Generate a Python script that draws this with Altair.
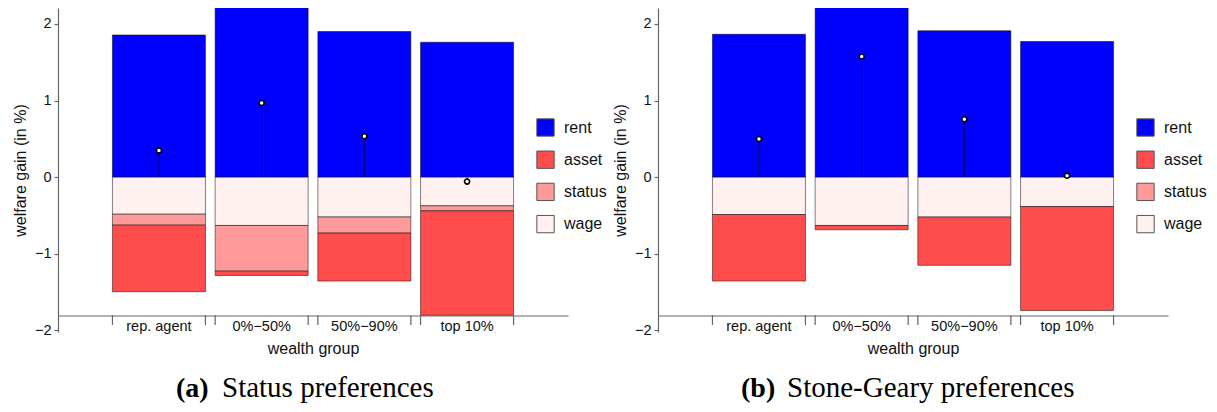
import altair as alt
import pandas as pd

# ---------------- data ----------------
groups = ["rep. agent", "0%\u221250%", "50%\u221290%", "top 10%"]
components = ["rent", "asset", "status", "wage"]
comp_colors = ["#0000FF", "#FF4D4D", "#FF9A9A", "#FFF1F0"]

# (a) Status preferences
rent_a = [1.855, 2.26, 1.90, 1.76]
wage_a = [-0.483, -0.63, -0.52, -0.374]
status_a = [-0.143, -0.596, -0.21, -0.066]
asset_a = [-0.869, -0.057, -0.626, -1.36]
total_a = [0.347, 0.969, 0.535, -0.057]

# (b) Stone-Geary preferences
rent_b = [1.864, 2.27, 1.91, 1.77]
wage_b = [-0.487, -0.63, -0.52, -0.383]
status_b = [0.0, 0.0, 0.0, 0.0]
asset_b = [-0.869, -0.057, -0.63, -1.357]
total_b = [0.499, 1.573, 0.756, 0.02]

x_axis_level = -1.8
y_ticks = [-2, -1, 0, 1, 2]

# ---------------- layout ----------------
W = 510
H = 324
Y_DOMAIN = [-2.02, 2.207]
AXIS_COLOR = "#666666"
SANS = "Liberation Sans"
SERIF = "Liberation Serif"


def bars_frame(rent, wage, status, asset):
    rows = []
    for g, r, w, s, a in zip(groups, rent, wage, status, asset):
        rows.append({"group": g, "component": "rent", "y0": 0.0, "y1": r})
        rows.append({"group": g, "component": "wage", "y0": 0.0, "y1": w})
        if s != 0:
            rows.append({"group": g, "component": "status", "y0": w, "y1": w + s})
        rows.append({"group": g, "component": "asset", "y0": w + s, "y1": w + s + a})
    return pd.DataFrame(rows)


def xenc(**kw):
    return alt.X(
        "group:N",
        sort=groups,
        scale=alt.Scale(paddingInner=0.0945, paddingOuter=0.53),
        axis=alt.Axis(
            title="wealth group",
            orient="bottom",
            offset=-16.5,
            domain=True,
            domainColor=AXIS_COLOR,
            domainWidth=1.2,
            ticks=False,
            tickSize=0,
            labelAngle=0,
            labelFont=SANS,
            labelFontSize=14.5,
            labelColor="#111111",
            labelBaseline="middle",
            labelPadding=11,
            titleFont=SANS,
            titleFontSize=16,
            titleFontWeight="normal",
            titleColor="#111111",
            titlePadding=7,
        ),
        **kw,
    )


def yenc(field):
    return alt.Y(
        field,
        scale=alt.Scale(domain=Y_DOMAIN, nice=False, zero=False),
        axis=alt.Axis(
            title="welfare gain (in %)",
            values=y_ticks,
            grid=False,
            domainColor=AXIS_COLOR,
            domainWidth=1.2,
            tickColor=AXIS_COLOR,
            tickWidth=1.2,
            tickSize=4,
            labelFont=SANS,
            labelFontSize=14.5,
            labelColor="#111111",
            labelPadding=3,
            titleFont=SANS,
            titleFontSize=16,
            titleFontWeight="normal",
            titleColor="#111111",
            titlePadding=6,
        ),
    )


def panel(rent, wage, status, asset, total, letter, caption, x_letter, x_caption):
    bdf = bars_frame(rent, wage, status, asset)
    tdf = pd.DataFrame({"group": groups, "zero": [0.0] * len(groups), "total": total})
    kdf = pd.DataFrame({"group": groups, "ya": [x_axis_level] * len(groups),
                        "yb": [x_axis_level - 0.13] * len(groups)})

    bars = alt.Chart(bdf).mark_bar(
        stroke="black", strokeWidth=0.9, strokeOpacity=0.55, clip=True
    ).encode(
        x=xenc(),
        y=yenc("y0:Q"),
        y2="y1:Q",
        fill=alt.Fill(
            "component:N",
            scale=alt.Scale(domain=components, range=comp_colors),
            legend=alt.Legend(
                orient="none",
                legendX=478,
                legendY=110,
                title=None,
                symbolType="square",
                symbolSize=300,
                symbolStrokeColor="#555555",
                symbolStrokeWidth=1,
                symbolOpacity=1,
                labelFont=SANS,
                labelFontSize=16,
                labelColor="#111111",
                labelOffset=9,
                rowPadding=9.2,
                padding=0,
            ),
        ),
    )

    stems = alt.Chart(tdf).mark_rule(color="black", strokeWidth=0.6).encode(
        x=xenc(), y=yenc("zero:Q"), y2="total:Q"
    )
    dots = alt.Chart(tdf).mark_point(
        shape="circle", filled=True, fill="white", stroke="black",
        strokeWidth=1.6, size=26, opacity=1
    ).encode(x=xenc(), y=yenc("total:Q"))

    ticks_l = alt.Chart(kdf).mark_rule(color=AXIS_COLOR, strokeWidth=1.2).encode(
        x=xenc(bandPosition=0), y=yenc("ya:Q"), y2="yb:Q"
    )
    ticks_r = alt.Chart(kdf).mark_rule(color=AXIS_COLOR, strokeWidth=1.2).encode(
        x=xenc(bandPosition=1), y=yenc("ya:Q"), y2="yb:Q"
    )

    cap_a = alt.Chart(pd.DataFrame({"t": [letter]})).mark_text(
        font=SERIF, fontSize=28, fontWeight="bold", align="left",
        baseline="alphabetic", color="black"
    ).encode(x=alt.value(x_letter), y=alt.value(388.7), text="t:N")
    cap_b = alt.Chart(pd.DataFrame({"t": [caption]})).mark_text(
        font=SERIF, fontSize=29, align="left", baseline="alphabetic", color="black"
    ).encode(x=alt.value(x_caption), y=alt.value(388.7), text="t:N")

    return alt.layer(bars, stems, dots, ticks_l, ticks_r, cap_a, cap_b).properties(
        width=W, height=H
    )


pa = panel(rent_a, wage_a, status_a, asset_a, total_a,
           "(a)", "Status preferences", 118, 164)
pb = panel(rent_b, wage_b, status_b, asset_b, total_b,
           "(b)", "Stone-Geary preferences", 83, 129)

chart = alt.hconcat(pa, pb, spacing=90, bounds="flush").resolve_scale(
    fill="independent"
).properties(
    padding={"left": 4, "top": 0, "right": 0, "bottom": 0},
    background="white",
).configure_view(stroke=None)

chart.save("out.html", embed_options={"renderer": "svg", "actions": False})
